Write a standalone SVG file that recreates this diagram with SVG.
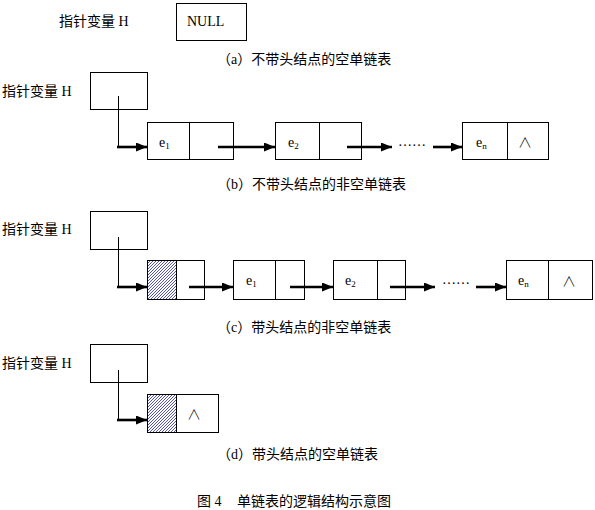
<svg xmlns="http://www.w3.org/2000/svg" width="595" height="510" viewBox="0 0 595 510">
<style>
  .t { font-family: "Liberation Serif", "Noto Sans CJK SC", serif; font-size: 14px; fill: #000; }
  .e { font-family: "Liberation Serif", serif; font-size: 14px; fill: #000; }
  .sub { font-size: 9px; }
  .nil { font-family: "Noto Sans CJK SC", "DejaVu Sans", sans-serif; font-size: 14px; font-weight: 300; fill: #000; }
  .box { fill: #fff; stroke: #000; stroke-width: 1; }
  .div { stroke: #000; stroke-width: 1; }
  .thin { stroke: #000; stroke-width: 1; fill: none; }
  .arr { stroke: #000; stroke-width: 2.6; fill: none; marker-end: url(#ah); }
</style>
<defs>
  <marker id="ah" markerUnits="userSpaceOnUse" markerWidth="11" markerHeight="10" refX="11" refY="4.5" orient="auto">
    <path d="M0,0 L11,4.5 L0,9 Z" fill="#000"/>
  </marker>
  <pattern id="hatch" patternUnits="userSpaceOnUse" width="3" height="3">
    <rect width="3" height="3" fill="#fff"/>
    <path d="M-1,1 L1,-1 M0,3 L3,0 M2,4 L4,2" stroke="#2626a0" stroke-width="0.8"/>
  </pattern>
</defs>
<rect width="595" height="510" fill="#fff"/>

<!-- (a) -->
<g id="a-label"><text class="t" x="59" y="26">指针变量 H</text></g>
<g id="a-H"><rect class="box" x="176.5" y="3.5" width="70" height="37"/><text class="e" x="187" y="26">NULL</text></g>
<g id="a-caption"><text class="t" x="217" y="64">（a）不带头结点的空单链表</text></g>

<!-- (b) -->
<g id="b-label"><text class="t" x="2" y="96">指针变量 H</text></g>
<g id="b-H"><rect class="box" x="90.5" y="72.5" width="57" height="37"/></g>
<g id="b-e1"><rect class="box" x="147.5" y="122.5" width="86" height="37"/><line class="div" x1="189.5" y1="122.5" x2="189.5" y2="159.5"/><text class="e" x="159" y="147">e<tspan class="sub" dy="2">1</tspan></text></g>
<g id="b-e2"><rect class="box" x="275.5" y="122.5" width="86" height="37"/><line class="div" x1="319.5" y1="122.5" x2="319.5" y2="159.5"/><text class="e" x="288" y="147">e<tspan class="sub" dy="2">2</tspan></text></g>
<g id="b-dots"><text class="e" x="398" y="146">……</text></g>
<g id="b-en"><rect class="box" x="462.5" y="122.5" width="86" height="37"/><line class="div" x1="507.5" y1="122.5" x2="507.5" y2="159.5"/><text class="e" x="476" y="147">e<tspan class="sub" dy="2">n</tspan></text><text class="nil" x="518" y="147">∧</text></g>
<g id="b-caption"><text class="t" x="217" y="189">（b）不带头结点的非空单链表</text></g>

<!-- (c) -->
<g id="c-label"><text class="t" x="2" y="234">指针变量 H</text></g>
<g id="c-H"><rect class="box" x="90.5" y="211.5" width="57" height="38"/></g>
<g id="c-head"><rect class="box" x="147.5" y="260.5" width="57" height="39"/><rect x="148" y="261" width="28.5" height="38" fill="url(#hatch)"/><line class="div" x1="176.5" y1="260.5" x2="176.5" y2="299.5"/></g>
<g id="c-e1"><rect class="box" x="233.5" y="260.5" width="71" height="39"/><line class="div" x1="275.5" y1="260.5" x2="275.5" y2="299.5"/><text class="e" x="246" y="285">e<tspan class="sub" dy="2">1</tspan></text></g>
<g id="c-e2"><rect class="box" x="333.5" y="260.5" width="72" height="39"/><line class="div" x1="377.5" y1="260.5" x2="377.5" y2="299.5"/><text class="e" x="345" y="285">e<tspan class="sub" dy="2">2</tspan></text></g>
<g id="c-dots"><text class="e" x="442" y="284">……</text></g>
<g id="c-en"><rect class="box" x="506.5" y="260.5" width="86" height="39"/><line class="div" x1="548.5" y1="260.5" x2="548.5" y2="299.5"/><text class="e" x="518" y="285">e<tspan class="sub" dy="2">n</tspan></text><text class="nil" x="562" y="286">∧</text></g>
<g id="c-caption"><text class="t" x="217" y="332">（c）带头结点的非空单链表</text></g>

<!-- (d) -->
<g id="d-label"><text class="t" x="2" y="368">指针变量 H</text></g>
<g id="d-H"><rect class="box" x="90.5" y="344.5" width="57" height="38"/></g>
<g id="d-head"><rect class="box" x="147.5" y="394.5" width="71" height="38"/><rect x="148" y="395" width="28.5" height="37" fill="url(#hatch)"/><line class="div" x1="176.5" y1="394.5" x2="176.5" y2="432.5"/><text class="nil" x="187" y="419">∧</text></g>
<g id="d-caption"><text class="t" x="217" y="459">（d）带头结点的空单链表</text></g>

<g id="figure-caption"><text class="t" x="197" y="506">图 4<tspan x="237">单链表的逻辑结构示意图</tspan></text></g>

<!-- connectors -->
<g id="connectors">
  <line class="thin" x1="118.5" y1="96" x2="118.5" y2="147"/>
  <line class="arr" x1="117" y1="147" x2="147" y2="147"/>
  <line class="arr" x1="218" y1="147" x2="275" y2="147"/>
  <line class="arr" x1="347" y1="147" x2="392" y2="147"/>
  <line class="arr" x1="433" y1="147" x2="462" y2="147"/>

  <line class="thin" x1="118.5" y1="237" x2="118.5" y2="287"/>
  <line class="arr" x1="117" y1="287" x2="147" y2="287"/>
  <line class="arr" x1="189" y1="287" x2="233" y2="287"/>
  <line class="arr" x1="290" y1="287" x2="333" y2="287"/>
  <line class="arr" x1="390" y1="287" x2="435" y2="287"/>
  <line class="arr" x1="476" y1="287" x2="506" y2="287"/>

  <line class="thin" x1="118.5" y1="370" x2="118.5" y2="420"/>
  <line class="arr" x1="117" y1="420" x2="147" y2="420"/>
</g>
</svg>
